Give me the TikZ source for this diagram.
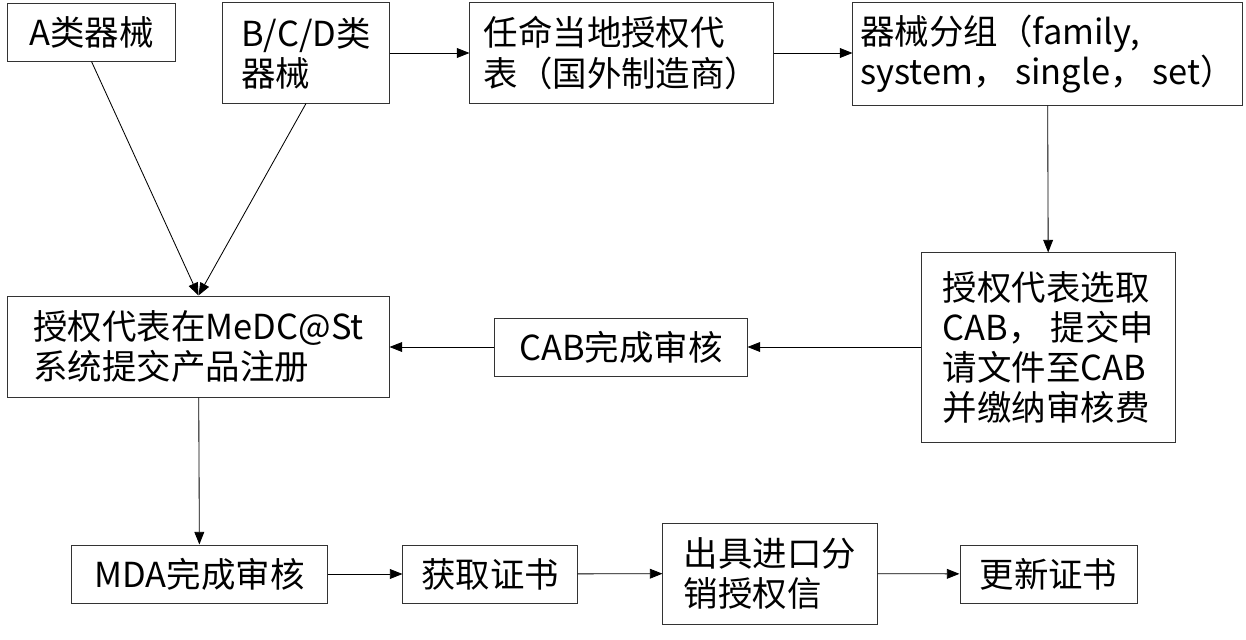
\documentclass[tikz,border=0pt]{standalone}
\usepackage{fontspec}
\setmainfont{Noto Sans CJK SC}
\usetikzlibrary{arrows.meta}

\begin{document}
\begin{tikzpicture}[x=0.025cm, y=-0.025cm,
    every node/.style={draw=black!80, line width=0.7pt, align=left, inner sep=0pt,
        font=\fontsize{24.5}{28.5}\selectfont},
    arr/.style={-{Triangle[length=9pt, width=7pt]}, line width=0.6pt}]
    \useasboundingbox (0, 0) rectangle (1246, 639);

    \node[minimum width=167\pgflinewidth, minimum width=4.175cm, minimum height=1.45cm] (a) at (91.5, 32) {A类器械};
    \node[minimum width=4.15cm, minimum height=2.5cm] (bcd) at (306, 53) {B/C/D类\\器械};
    \node[minimum width=7.575cm, minimum height=2.5cm] (rep) at (621.5, 53) {任命当地授权代\\表（国外制造商）};
    \node[minimum width=9.725cm, minimum height=2.55cm] (grp) at (1047.5, 54) {器械分组（family,\\system， single， set）};
    \node[minimum width=6.325cm, minimum height=4.725cm] (cab) at (1048.5, 347.5) {授权代表选取\\CAB， 提交申\\请文件至CAB\\并缴纳审核费};
    \node[minimum width=6.3cm, minimum height=1.45cm] (audit) at (621, 347) {CAB完成审核};
    \node[minimum width=9.525cm, minimum height=2.525cm] (reg) at (198.5, 346.5) {授权代表在MeDC@St\\系统提交产品注册};
    \node[minimum width=6.375cm, minimum height=1.45cm] (mda) at (199.5, 574) {MDA完成审核};
    \node[minimum width=4.35cm, minimum height=1.45cm] (cert) at (490, 574) {获取证书};
    \node[minimum width=5.35cm, minimum height=2.525cm] (letter) at (770, 573.5) {出具进口分\\销授权信};
    \node[minimum width=4.425cm, minimum height=1.45cm] (renew) at (1048.5, 574) {更新证书};

    \draw[arr] (bcd) -- (rep);
    \draw[arr] (rep) -- (grp.west |- rep);
    \draw[arr] (grp) -- (cab);
    \draw[arr] (cab.west |- audit) -- (audit);
    \draw[arr] (audit) -- (reg.east |- audit);
    \draw[arr] (a.south) -- (reg.north);
    \draw[arr] (bcd.south) -- (reg.north);
    \draw[arr] (reg) -- (mda);
    \draw[arr] (mda) -- (cert);
    \draw[arr] (cert) -- (letter);
    \draw[arr] (letter) -- (renew);
\end{tikzpicture}
\end{document}
